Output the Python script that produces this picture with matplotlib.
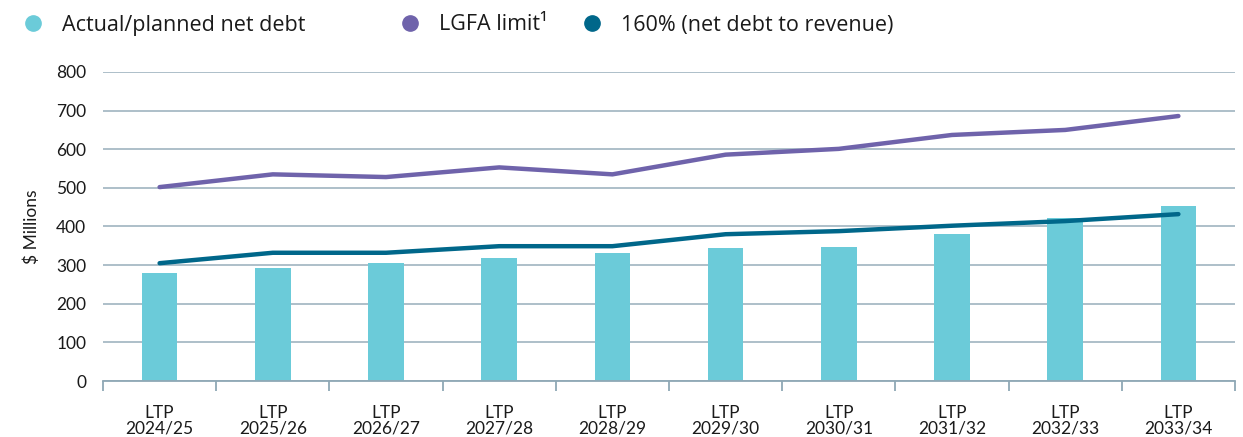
import matplotlib.pyplot as plt
from matplotlib.lines import Line2D

# values ($ millions)
years = ['2024/25', '2025/26', '2026/27', '2027/28', '2028/29',
         '2029/30', '2030/31', '2031/32', '2032/33', '2033/34']
net_debt = [280, 293, 305, 318, 331, 345, 348, 381, 421, 453]
lgfa_limit = [502, 535, 528, 553, 535, 586, 601, 637, 650, 686]
debt_to_rev = [305, 332, 332, 349, 349, 380, 388, 402, 414, 432]

labels = ['LTP\n' + y for y in years]

c_bar = '#6BCBD9'
c_lgfa = '#6F63AB'
c_160 = '#00678A'
c_grid = '#A7BAC5'
c_text = '#1a1a1a'

fig = plt.figure(figsize=(12.43, 4.37), dpi=100)
ax = fig.add_axes([103 / 1243, 56 / 437, 1132 / 1243, 309 / 437])

x = list(range(len(years)))
ax.bar(x, net_debt, width=0.315, color=c_bar, zorder=2)
ax.plot(x, lgfa_limit, color=c_lgfa, lw=3.2, solid_capstyle='round', zorder=3)
ax.plot(x, debt_to_rev, color=c_160, lw=3.2, solid_capstyle='round', zorder=3)

ax.set_xlim(-0.5, len(years) - 0.5)
ax.set_ylim(0, 800)
ax.set_yticks(range(0, 801, 100))
ax.yaxis.grid(True, color=c_grid, lw=1.3, zorder=0)
ax.set_axisbelow(True)

for s in ['top', 'right', 'left']:
    ax.spines[s].set_visible(False)
ax.spines['bottom'].set_color('#8FA8B5')
ax.spines['bottom'].set_linewidth(1.3)

# category labels in the middle, tick marks on the boundaries
ax.set_xticks(x)
ax.set_xticklabels(labels, fontfamily='Lato', fontsize=12.5, color=c_text,
                   linespacing=1.0)
ax.tick_params(axis='x', length=0, pad=17)
ax.set_xticks([i - 0.5 for i in range(len(years) + 1)], minor=True)
ax.tick_params(axis='x', which='minor', length=7, width=1.3, color='#8FA8B5')
ax.tick_params(axis='y', length=0, pad=12, labelsize=12.5, labelcolor=c_text)
for t in ax.get_yticklabels():
    t.set_fontfamily('Lato')

ax.set_ylabel('$ Millions', fontfamily='Lato', fontsize=12.5, color=c_text,
              labelpad=12)

# legend entries placed like the reference
entries = [(c_bar, 'Actual/planned net debt', 24 / 1243),
           (c_lgfa, 'LGFA limit¹', 401 / 1243),
           (c_160, '160% (net debt to revenue)', 583 / 1243)]
for col, lab, xpos in entries:
    h = Line2D([], [], marker='o', ls='none', color=col, markersize=11)
    leg = fig.legend([h], [lab], loc='center left',
                     bbox_to_anchor=(xpos, 1 - 25 / 437),
                     frameon=False, handletextpad=0.95, borderpad=0,
                     borderaxespad=0, handlelength=0.8,
                     prop={'family': 'Open Sans', 'size': 15.5})
    for t in leg.get_texts():
        t.set_color(c_text)

fig.savefig('out.png', dpi=100)
